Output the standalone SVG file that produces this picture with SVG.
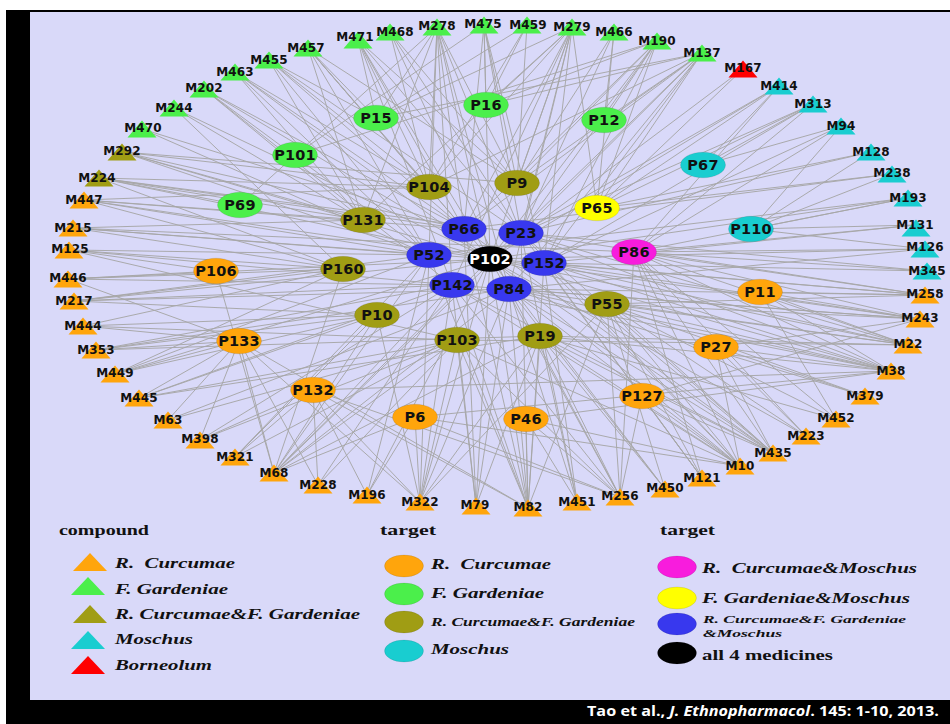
<svg xmlns="http://www.w3.org/2000/svg" xmlns:xlink="http://www.w3.org/1999/xlink" width="950" height="724" viewBox="0 0 950 724">
<style>
.e{fill:none;stroke:#A6A6A6;stroke-width:0.95}
.ml{font-family:"DejaVu Sans",sans-serif;font-weight:bold;font-size:12px;letter-spacing:0.1px;text-anchor:middle;fill:#111}
.pl{font-family:"DejaVu Sans",sans-serif;font-weight:bold;font-size:14.5px;letter-spacing:0.2px;text-anchor:middle;fill:#111}
.r{fill:#FFA50C}.g{fill:#4BEF4B}.o{fill:#A09D14}.c{fill:#19CDD0}.rd{fill:#FF0000}.b{fill:#3838EE}.m{fill:#F81CDD}.y{fill:#FFFF00}.k{fill:#000}
ellipse{stroke:#000;stroke-opacity:0.12;stroke-width:0.8}
.lt{font-family:"Liberation Serif",serif;font-weight:bold;font-style:italic;font-size:15px;fill:#111;white-space:pre}
.lh{font-family:"Liberation Serif",serif;font-weight:bold;font-size:14px;fill:#111}
.ls{font-family:"Liberation Serif",serif;font-weight:bold;font-style:italic;font-size:11px;fill:#111;white-space:pre}
</style>
<defs>
<polygon id="tri" points="-14.5,8.5 14.5,8.5 0,-8.5"/>
<polygon id="ltri" points="-17,9 17,9 0,-9"/>
</defs>
<rect x="0" y="0" width="950" height="724" fill="#fff"/>
<rect x="6" y="10" width="944" height="714" fill="#000"/>
<rect x="30" y="12" width="920" height="688" fill="#D9D9F9"/>

<g id="connectors">
<path class="e" d="M358 40L429 187M358 40L452 285M358 40L464 229M358 40L517 183M358 40L521 233M358 40L490 259M358 40L376 118"/>
<path class="e" d="M390 32L517 183M390 32L521 233M390 32L429 187M390 32L509 289"/>
<path class="e" d="M437 27L376 118M437 27L429 187M437 27L464 229M437 27L429 255M437 27L490 259M437 27L521 233M437 27L517 183M437 27L363 220M437 27L452 285M437 27L509 289M437 27L240 205"/>
<path class="e" d="M484 25L486 105M484 25L517 183M484 25L490 259M484 25L521 233M484 25L464 229M484 25L544 263M484 25L295 155"/>
<path class="e" d="M527 25L486 105M527 25L517 183M527 25L429 187M527 25L376 118"/>
<path class="e" d="M572 27L486 105M572 27L517 183M572 27L464 229M572 27L521 233M572 27L490 259M572 27L544 263M572 27L429 187M572 27L597 208M572 27L509 289M572 27L363 220M572 27L376 118M572 27L452 285"/>
<path class="e" d="M614 32L604 120M614 32L517 183M614 32L521 233M614 32L597 208"/>
<path class="e" d="M657 41L604 120M657 41L486 105M657 41L517 183M657 41L597 208M657 41L521 233M657 41L490 259M657 41L464 229M657 41L544 263M657 41L295 155"/>
<path class="e" d="M702 53L604 120M702 53L486 105M702 53L597 208M702 53L521 233M702 53L490 259M702 53L517 183M702 53L544 263M702 53L509 289M702 53L429 187M702 53L376 118M702 53L464 229"/>
<path class="e" d="M308 48L376 118M308 48L429 187M308 48L464 229M308 48L429 255M308 48L490 259M308 48L517 183M308 48L363 220"/>
<path class="e" d="M269 60L429 187M269 60L464 229M269 60L363 220M269 60L521 233M269 60L429 255M269 60L376 118"/>
<path class="e" d="M235 72L363 220M235 72L464 229M235 72L429 255M235 72L429 187M235 72L490 259"/>
<path class="e" d="M204 89L464 229M204 89L429 255M204 89L452 285M204 89L490 259M204 89L363 220"/>
<path class="e" d="M174 108L363 220M174 108L343 269M174 108L490 259"/>
<path class="e" d="M142 129L429 255M142 129L464 229"/>
<path class="e" d="M122 152L464 229M122 152L429 255M122 152L363 220M122 152L490 259M122 152L429 187M122 152L517 183"/>
<path class="e" d="M99 178L363 220M99 178L343 269M99 178L464 229M99 178L429 187M99 178L521 233M99 178L490 259M99 178L240 205"/>
<path class="e" d="M84 200L363 220M84 200L464 229M84 200L429 255M84 200L343 269M84 200L429 187M84 200L490 259"/>
<path class="e" d="M73 228L363 220M73 228L343 269M73 228L429 255M73 228L490 259M73 228L634 252"/>
<path class="e" d="M69 250L343 269M69 250L216 271M69 250L429 255M69 250L452 285M69 250L457 340"/>
<path class="e" d="M68 279L216 271M68 279L343 269M68 279L239 341M68 279L452 285M68 279L490 259"/>
<path class="e" d="M74 301L343 269M74 301L377 315M74 301L429 255M74 301L452 285M74 301L509 289M74 301L490 259"/>
<path class="e" d="M83 326L239 341M83 326L343 269M83 326L377 315M83 326L457 340"/>
<path class="e" d="M96 350L239 341M96 350L377 315M96 350L452 285M96 350L509 289M96 350L540 336"/>
<path class="e" d="M115 374L239 341M115 374L343 269M115 374L377 315M115 374L429 255M115 374L490 259"/>
<path class="e" d="M139 398L239 341M139 398L377 315M139 398L452 285M139 398L457 340M139 398L540 336"/>
<path class="e" d="M168 420L239 341M168 420L457 340M168 420L509 289"/>
<path class="e" d="M200 440L313 390M200 440L239 341M200 440L457 340M200 440L452 285"/>
<path class="e" d="M235 457L313 390M235 457L377 315M235 457L429 255M235 457L457 340"/>
<path class="e" d="M274 473L239 341M274 473L415 417M274 473L377 315M274 473L457 340M274 473L452 285M274 473L490 259M274 473L509 289M274 473L429 255M274 473L343 269M274 473L540 336M274 473L521 233M274 473L216 271"/>
<path class="e" d="M318 485L239 341M318 485L313 390M318 485L457 340M318 485L452 285"/>
<path class="e" d="M367 495L415 417M367 495L313 390M367 495L490 259M367 495L429 255"/>
<path class="e" d="M420 502L415 417M420 502L313 390M420 502L457 340M420 502L452 285M420 502L490 259M420 502L509 289M420 502L429 255M420 502L540 336M420 502L377 315M420 502L607 304M420 502L239 341"/>
<path class="e" d="M476 506L457 340M476 506L509 289M476 506L490 259M476 506L452 285M476 506L464 229M476 506L540 336"/>
<path class="e" d="M528 508L526 419M528 508L540 336M528 508L457 340M528 508L509 289M528 508L490 259M528 508L452 285M528 508L429 255M528 508L464 229M528 508L521 233M528 508L544 263M528 508L239 341M528 508L607 304M528 508L313 390"/>
<path class="e" d="M577 502L526 419M577 502L540 336M577 502L509 289M577 502L544 263M577 502L521 233"/>
<path class="e" d="M620 497L642 396M620 497L607 304M620 497L540 336M620 497L526 419M620 497L634 252M620 497L509 289M620 497L452 285M620 497L490 259M620 497L457 340M620 497L415 417M620 497L313 390"/>
<path class="e" d="M665 489L607 304M665 489L540 336M665 489L509 289M665 489L490 259"/>
<path class="e" d="M702 478L642 396M702 478L634 252M702 478L607 304M702 478L544 263M702 478L521 233"/>
<path class="e" d="M740 466L642 396M740 466L716 347M740 466L607 304M740 466L540 336M740 466L634 252M740 466L509 289M740 466L490 259M740 466L521 233M740 466L544 263M740 466L452 285M740 466L526 419M740 466L415 417M740 466L457 340"/>
<path class="e" d="M773 453L716 347M773 453L642 396M773 453L607 304M773 453L634 252M773 453L540 336M773 453L509 289M773 453L544 263M773 453L490 259M773 453L521 233M773 453L464 229M773 453L452 285"/>
<path class="e" d="M806 436L716 347M806 436L634 252M806 436L607 304M806 436L490 259"/>
<path class="e" d="M836 419L760 292M836 419L634 252M836 419L607 304M836 419L540 336"/>
<path class="e" d="M865 396L716 347M865 396L607 304M865 396L509 289"/>
<path class="e" d="M891 371L760 292M891 371L716 347M891 371L607 304M891 371L634 252M891 371L509 289M891 371L544 263M891 371L490 259M891 371L521 233M891 371L540 336M891 371L452 285M891 371L526 419M891 371L415 417M891 371L313 390"/>
<path class="e" d="M908 345L760 292M908 345L607 304M908 345L634 252M908 345L544 263M908 345L509 289M908 345L490 259M908 345L521 233M908 345L540 336M908 345L457 340"/>
<path class="e" d="M920 319L760 292M920 319L634 252M920 319L607 304M920 319L544 263M920 319L509 289M920 319L490 259M920 319L452 285M920 319L716 347M920 319L642 396"/>
<path class="e" d="M925 295L760 292M925 295L634 252M925 295L607 304M925 295L544 263M925 295L490 259M925 295L521 233M925 295L509 289"/>
<path class="e" d="M779 86L703 165M779 86L597 208M779 86L490 259M779 86L521 233M779 86L634 252"/>
<path class="e" d="M813 104L703 165M813 104L634 252M813 104L597 208M813 104L544 263M813 104L521 233"/>
<path class="e" d="M841 126L703 165M841 126L751 229M841 126L634 252M841 126L544 263"/>
<path class="e" d="M871 152L751 229M871 152L597 208M871 152L521 233"/>
<path class="e" d="M892 174L597 208M892 174L751 229M892 174L464 229"/>
<path class="e" d="M908 198L751 229M908 198L634 252M908 198L429 255M908 198L490 259"/>
<path class="e" d="M916 225L751 229M916 225L634 252M916 225L544 263"/>
<path class="e" d="M925 249L751 229M925 249L634 252M925 249L490 259M925 249L509 289"/>
<path class="e" d="M927 271L634 252M927 271L544 263M927 271L521 233"/>
<path class="e" d="M743 69L490 259M743 69L597 208"/>
</g>

<g id="targets">
<g id="P15"><ellipse class="g" cx="376" cy="118" rx="22.5" ry="12.8"/><text class="pl" x="376" y="123">P15</text></g>
<g id="P16"><ellipse class="g" cx="486" cy="105" rx="22.5" ry="12.8"/><text class="pl" x="486" y="110">P16</text></g>
<g id="P12"><ellipse class="g" cx="604" cy="120" rx="22.5" ry="12.8"/><text class="pl" x="604" y="125">P12</text></g>
<g id="P101"><ellipse class="g" cx="295" cy="155" rx="22.5" ry="12.8"/><text class="pl" x="295" y="160">P101</text></g>
<g id="P69"><ellipse class="g" cx="240" cy="205" rx="22.5" ry="12.8"/><text class="pl" x="240" y="210">P69</text></g>
<g id="P67"><ellipse class="c" cx="703" cy="165" rx="22.5" ry="12.8"/><text class="pl" x="703" y="170">P67</text></g>
<g id="P110"><ellipse class="c" cx="751" cy="229" rx="22.5" ry="12.8"/><text class="pl" x="751" y="234">P110</text></g>
<g id="P104"><ellipse class="o" cx="429" cy="187" rx="22.5" ry="12.8"/><text class="pl" x="429" y="192">P104</text></g>
<g id="P9"><ellipse class="o" cx="517" cy="183" rx="22.5" ry="12.8"/><text class="pl" x="517" y="188">P9</text></g>
<g id="P131"><ellipse class="o" cx="363" cy="220" rx="22.5" ry="12.8"/><text class="pl" x="363" y="225">P131</text></g>
<g id="P65"><ellipse class="y" cx="597" cy="208" rx="22.5" ry="12.8"/><text class="pl" x="597" y="213">P65</text></g>
<g id="P66"><ellipse class="b" cx="464" cy="229" rx="22.5" ry="12.8"/><text class="pl" x="464" y="234">P66</text></g>
<g id="P23"><ellipse class="b" cx="521" cy="233" rx="22.5" ry="12.8"/><text class="pl" x="521" y="238">P23</text></g>
<g id="P52"><ellipse class="b" cx="429" cy="255" rx="22.5" ry="12.8"/><text class="pl" x="429" y="260">P52</text></g>
<g id="P102"><ellipse class="k" cx="490" cy="259" rx="22.5" ry="12.8"/><text class="pl" x="490" y="264" style="fill:#fff">P102</text></g>
<g id="P152"><ellipse class="b" cx="544" cy="263" rx="22.5" ry="12.8"/><text class="pl" x="544" y="268">P152</text></g>
<g id="P86"><ellipse class="m" cx="634" cy="252" rx="22.5" ry="12.8"/><text class="pl" x="634" y="257">P86</text></g>
<g id="P106"><ellipse class="r" cx="216" cy="271" rx="22.5" ry="12.8"/><text class="pl" x="216" y="276">P106</text></g>
<g id="P160"><ellipse class="o" cx="343" cy="269" rx="22.5" ry="12.8"/><text class="pl" x="343" y="274">P160</text></g>
<g id="P142"><ellipse class="b" cx="452" cy="285" rx="22.5" ry="12.8"/><text class="pl" x="452" y="290">P142</text></g>
<g id="P84"><ellipse class="b" cx="509" cy="289" rx="22.5" ry="12.8"/><text class="pl" x="509" y="294">P84</text></g>
<g id="P11"><ellipse class="r" cx="760" cy="292" rx="22.5" ry="12.8"/><text class="pl" x="760" y="297">P11</text></g>
<g id="P55"><ellipse class="o" cx="607" cy="304" rx="22.5" ry="12.8"/><text class="pl" x="607" y="309">P55</text></g>
<g id="P10"><ellipse class="o" cx="377" cy="315" rx="22.5" ry="12.8"/><text class="pl" x="377" y="320">P10</text></g>
<g id="P133"><ellipse class="r" cx="239" cy="341" rx="22.5" ry="12.8"/><text class="pl" x="239" y="346">P133</text></g>
<g id="P103"><ellipse class="o" cx="457" cy="340" rx="22.5" ry="12.8"/><text class="pl" x="457" y="345">P103</text></g>
<g id="P19"><ellipse class="o" cx="540" cy="336" rx="22.5" ry="12.8"/><text class="pl" x="540" y="341">P19</text></g>
<g id="P27"><ellipse class="r" cx="716" cy="347" rx="22.5" ry="12.8"/><text class="pl" x="716" y="352">P27</text></g>
<g id="P132"><ellipse class="r" cx="313" cy="390" rx="22.5" ry="12.8"/><text class="pl" x="313" y="395">P132</text></g>
<g id="P127"><ellipse class="r" cx="642" cy="396" rx="22.5" ry="12.8"/><text class="pl" x="642" y="401">P127</text></g>
<g id="P6"><ellipse class="r" cx="415" cy="417" rx="22.5" ry="12.8"/><text class="pl" x="415" y="422">P6</text></g>
<g id="P46"><ellipse class="r" cx="526" cy="419" rx="22.5" ry="12.8"/><text class="pl" x="526" y="424">P46</text></g>
</g>

<g id="compounds">
<g id="M471"><use href="#tri" x="358" y="40" class="g"/><text class="ml" x="355" y="41">M471</text></g>
<g id="M468"><use href="#tri" x="390" y="32" class="g"/><text class="ml" x="395" y="36">M468</text></g>
<g id="M278"><use href="#tri" x="437" y="27" class="g"/><text class="ml" x="437" y="30">M278</text></g>
<g id="M475"><use href="#tri" x="484" y="25" class="g"/><text class="ml" x="483" y="28">M475</text></g>
<g id="M459"><use href="#tri" x="527" y="25" class="g"/><text class="ml" x="528" y="29">M459</text></g>
<g id="M279"><use href="#tri" x="572" y="27" class="g"/><text class="ml" x="572" y="31">M279</text></g>
<g id="M466"><use href="#tri" x="614" y="32" class="g"/><text class="ml" x="614" y="36">M466</text></g>
<g id="M190"><use href="#tri" x="657" y="41" class="g"/><text class="ml" x="657" y="45">M190</text></g>
<g id="M137"><use href="#tri" x="702" y="53" class="g"/><text class="ml" x="702" y="57">M137</text></g>
<g id="M167"><use href="#tri" x="743" y="69" class="rd"/><text class="ml" x="743" y="72">M167</text></g>
<g id="M414"><use href="#tri" x="779" y="86" class="c"/><text class="ml" x="779" y="90">M414</text></g>
<g id="M313"><use href="#tri" x="813" y="104" class="c"/><text class="ml" x="813" y="108">M313</text></g>
<g id="M94"><use href="#tri" x="841" y="126" class="c"/><text class="ml" x="841" y="130">M94</text></g>
<g id="M128"><use href="#tri" x="871" y="152" class="c"/><text class="ml" x="871" y="156">M128</text></g>
<g id="M238"><use href="#tri" x="892" y="174" class="c"/><text class="ml" x="892" y="177">M238</text></g>
<g id="M193"><use href="#tri" x="908" y="198" class="c"/><text class="ml" x="908" y="202">M193</text></g>
<g id="M131"><use href="#tri" x="916" y="228" class="c"/><text class="ml" x="915" y="229">M131</text></g>
<g id="M126"><use href="#tri" x="925" y="249" class="c"/><text class="ml" x="925" y="251">M126</text></g>
<g id="M345"><use href="#tri" x="927" y="271" class="c"/><text class="ml" x="927" y="275">M345</text></g>
<g id="M258"><use href="#tri" x="925" y="295" class="r"/><text class="ml" x="925" y="298">M258</text></g>
<g id="M243"><use href="#tri" x="920" y="319" class="r"/><text class="ml" x="920" y="322">M243</text></g>
<g id="M22"><use href="#tri" x="908" y="345" class="r"/><text class="ml" x="908" y="348">M22</text></g>
<g id="M38"><use href="#tri" x="891" y="371" class="r"/><text class="ml" x="891" y="375">M38</text></g>
<g id="M379"><use href="#tri" x="865" y="396" class="r"/><text class="ml" x="865" y="400">M379</text></g>
<g id="M452"><use href="#tri" x="836" y="419" class="r"/><text class="ml" x="836" y="422">M452</text></g>
<g id="M223"><use href="#tri" x="806" y="436" class="r"/><text class="ml" x="806" y="440">M223</text></g>
<g id="M435"><use href="#tri" x="773" y="453" class="r"/><text class="ml" x="773" y="457">M435</text></g>
<g id="M10"><use href="#tri" x="740" y="466" class="r"/><text class="ml" x="740" y="470">M10</text></g>
<g id="M121"><use href="#tri" x="702" y="478" class="r"/><text class="ml" x="702" y="482">M121</text></g>
<g id="M450"><use href="#tri" x="665" y="489" class="r"/><text class="ml" x="665" y="492">M450</text></g>
<g id="M256"><use href="#tri" x="620" y="497" class="r"/><text class="ml" x="620" y="500">M256</text></g>
<g id="M451"><use href="#tri" x="577" y="502" class="r"/><text class="ml" x="577" y="506">M451</text></g>
<g id="M82"><use href="#tri" x="528" y="508" class="r"/><text class="ml" x="528" y="511">M82</text></g>
<g id="M79"><use href="#tri" x="476" y="506" class="r"/><text class="ml" x="475" y="509">M79</text></g>
<g id="M322"><use href="#tri" x="420" y="502" class="r"/><text class="ml" x="420" y="506">M322</text></g>
<g id="M196"><use href="#tri" x="367" y="495" class="r"/><text class="ml" x="367" y="499">M196</text></g>
<g id="M228"><use href="#tri" x="318" y="485" class="r"/><text class="ml" x="318" y="489">M228</text></g>
<g id="M68"><use href="#tri" x="274" y="473" class="r"/><text class="ml" x="274" y="477">M68</text></g>
<g id="M321"><use href="#tri" x="235" y="457" class="r"/><text class="ml" x="235" y="461">M321</text></g>
<g id="M398"><use href="#tri" x="200" y="440" class="r"/><text class="ml" x="200" y="443">M398</text></g>
<g id="M63"><use href="#tri" x="168" y="420" class="r"/><text class="ml" x="168" y="424">M63</text></g>
<g id="M445"><use href="#tri" x="139" y="398" class="r"/><text class="ml" x="139" y="402">M445</text></g>
<g id="M449"><use href="#tri" x="115" y="374" class="r"/><text class="ml" x="115" y="377">M449</text></g>
<g id="M353"><use href="#tri" x="96" y="350" class="r"/><text class="ml" x="96" y="354">M353</text></g>
<g id="M444"><use href="#tri" x="83" y="326" class="r"/><text class="ml" x="83" y="330">M444</text></g>
<g id="M217"><use href="#tri" x="74" y="301" class="r"/><text class="ml" x="74" y="305">M217</text></g>
<g id="M446"><use href="#tri" x="68" y="279" class="r"/><text class="ml" x="68" y="282">M446</text></g>
<g id="M125"><use href="#tri" x="69" y="250" class="r"/><text class="ml" x="70" y="253">M125</text></g>
<g id="M215"><use href="#tri" x="73" y="228" class="r"/><text class="ml" x="73" y="232">M215</text></g>
<g id="M447"><use href="#tri" x="84" y="200" class="r"/><text class="ml" x="84" y="204">M447</text></g>
<g id="M224"><use href="#tri" x="99" y="178" class="o"/><text class="ml" x="97" y="182">M224</text></g>
<g id="M292"><use href="#tri" x="122" y="152" class="o"/><text class="ml" x="122" y="155">M292</text></g>
<g id="M470"><use href="#tri" x="142" y="129" class="g"/><text class="ml" x="143" y="132">M470</text></g>
<g id="M244"><use href="#tri" x="174" y="108" class="g"/><text class="ml" x="174" y="112">M244</text></g>
<g id="M202"><use href="#tri" x="204" y="89" class="g"/><text class="ml" x="204" y="92">M202</text></g>
<g id="M463"><use href="#tri" x="235" y="72" class="g"/><text class="ml" x="235" y="76">M463</text></g>
<g id="M455"><use href="#tri" x="269" y="60" class="g"/><text class="ml" x="269" y="64">M455</text></g>
<g id="M457"><use href="#tri" x="308" y="48" class="g"/><text class="ml" x="306" y="52">M457</text></g>
</g>

<g id="legend">
<text class="lh" x="59" y="535" textLength="90" lengthAdjust="spacingAndGlyphs">compound</text>
<use href="#ltri" x="90" y="562" class="r"/>
<text class="lt" x="115" y="568" textLength="120" lengthAdjust="spacingAndGlyphs">R.  Curcumae</text>
<use href="#ltri" x="88" y="586" class="g"/>
<text class="lt" x="115" y="594" textLength="113" lengthAdjust="spacingAndGlyphs">F. Gardeniae</text>
<use href="#ltri" x="90" y="614" class="o"/>
<text class="lt" x="115" y="619" textLength="245" lengthAdjust="spacingAndGlyphs">R. Curcumae&amp;F. Gardeniae</text>
<use href="#ltri" x="88" y="640" class="c"/>
<text class="lt" x="115" y="644" textLength="78" lengthAdjust="spacingAndGlyphs">Moschus</text>
<use href="#ltri" x="88" y="665" class="rd"/>
<text class="lt" x="115" y="670" textLength="97" lengthAdjust="spacingAndGlyphs">Borneolum</text>

<text class="lh" x="380" y="535" textLength="56" lengthAdjust="spacingAndGlyphs">target</text>
<ellipse class="r" cx="404" cy="566" rx="19.5" ry="11"/>
<text class="lt" x="431" y="569" textLength="120" lengthAdjust="spacingAndGlyphs">R.  Curcumae</text>
<ellipse class="g" cx="404" cy="594" rx="19.5" ry="11"/>
<text class="lt" x="431" y="598" textLength="113" lengthAdjust="spacingAndGlyphs">F. Gardeniae</text>
<ellipse class="o" cx="404" cy="622" rx="19.5" ry="11"/>
<text class="ls" x="431" y="626" textLength="204" lengthAdjust="spacingAndGlyphs" style="font-size:12px">R. Curcumae&amp;F. Gardeniae</text>
<ellipse class="c" cx="404" cy="651" rx="19.5" ry="11"/>
<text class="lt" x="431" y="654" textLength="78" lengthAdjust="spacingAndGlyphs">Moschus</text>

<text class="lh" x="660" y="535" textLength="55" lengthAdjust="spacingAndGlyphs">target</text>
<ellipse class="m" cx="677" cy="567" rx="19.5" ry="11"/>
<text class="lt" x="702" y="573" textLength="215" lengthAdjust="spacingAndGlyphs">R.  Curcumae&amp;Moschus</text>
<ellipse class="y" cx="677" cy="598" rx="19.5" ry="11"/>
<text class="lt" x="702" y="603" textLength="208" lengthAdjust="spacingAndGlyphs">F. Gardeniae&amp;Moschus</text>
<ellipse class="b" cx="677" cy="624" rx="19.5" ry="11"/>
<text class="ls" x="703" y="623" textLength="203" lengthAdjust="spacingAndGlyphs">R. Curcumae&amp;F. Gardeniae</text>
<text class="ls" x="703" y="637" textLength="79" lengthAdjust="spacingAndGlyphs">&amp;Moschus</text>
<ellipse class="k" cx="677" cy="653" rx="19.5" ry="11"/>
<text class="lh" x="702" y="660" textLength="131" lengthAdjust="spacingAndGlyphs" style="font-size:15px">all 4 medicines</text>
</g>

<text x="939" y="716" text-anchor="end" textLength="352" lengthAdjust="spacingAndGlyphs" style="font-family:'Open Sans',sans-serif;font-weight:bold;font-size:15px;fill:#fff">Tao et al., <tspan font-style="italic">J. Ethnopharmacol</tspan>. 145: 1-10, 2013.</text>
</svg>
